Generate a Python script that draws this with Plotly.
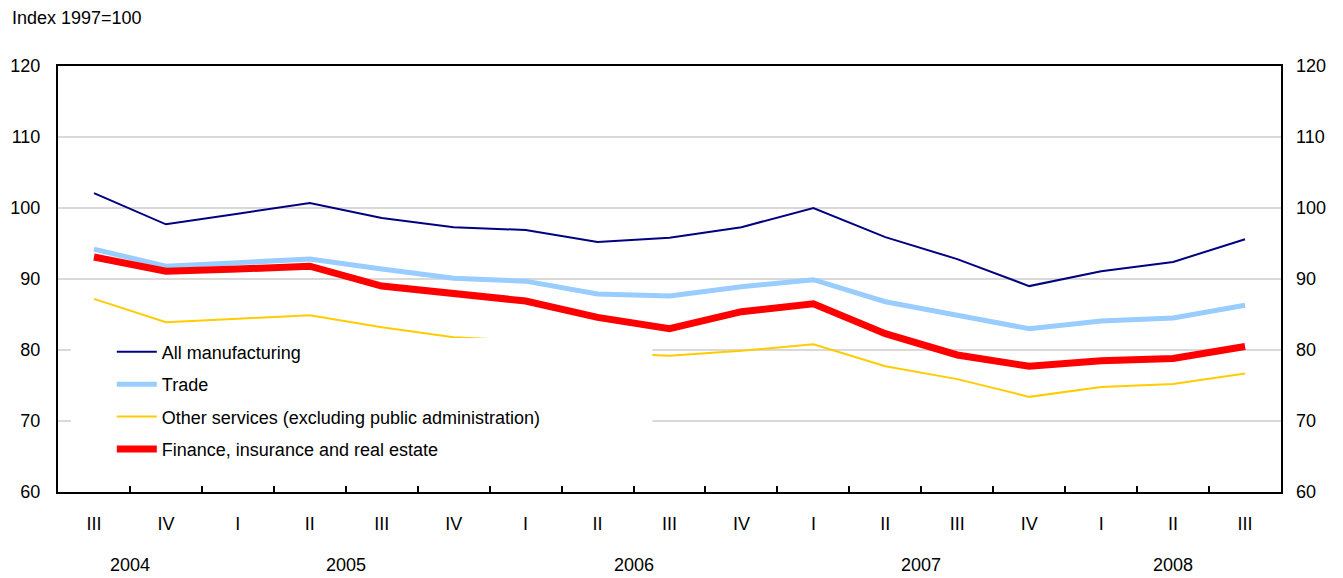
import plotly.graph_objects as go

quarters = ["III", "IV", "I", "II", "III", "IV", "I", "II", "III", "IV",
            "I", "II", "III", "IV", "I", "II", "III"]
years = ["2004", "2005", "2006", "2007", "2008"]
year_quarter_idx = [[0, 1], [2, 3, 4, 5], [6, 7, 8, 9], [10, 11, 12, 13], [14, 15, 16]]

all_manufacturing = [102.1, 97.7, 99.2, 100.7, 98.6, 97.3, 96.9, 95.2, 95.8, 97.3,
                     100.0, 95.9, 92.8, 89.0, 91.1, 92.4, 95.6]
trade = [94.2, 91.8, 92.3, 92.8, 91.4, 90.1, 89.7, 87.9, 87.6, 88.9,
         89.9, 86.8, 84.9, 83.0, 84.1, 84.5, 86.3]
other_services = [87.2, 83.9, 84.4, 84.9, 83.2, 81.8, 81.3, 79.6, 79.2, 79.9,
                  80.8, 77.7, 75.9, 73.4, 74.8, 75.2, 76.7]
finance = [93.1, 91.1, 91.4, 91.8, 89.0, 88.0, 86.9, 84.6, 83.0, 85.4,
           86.5, 82.3, 79.3, 77.7, 78.5, 78.8, 80.5]

series = [
    ("All manufacturing", all_manufacturing, "#000080", 2),
    ("Trade", trade, "#99CCFF", 5),
    ("Other services (excluding public administration)", other_services, "#FFCC00", 2),
    ("Finance, insurance and real estate", finance, "#FF0000", 7),
]

x = list(range(len(quarters)))
FONT = "Liberation Sans, Arial, Helvetica, sans-serif"

fig = go.Figure()
for i, (name, vals, color, w) in enumerate(series):
    fig.add_trace(go.Scatter(x=x, y=vals, mode="lines", name=name,
                             legendgroup=f"g{i}",
                             line=dict(color=color, width=w)))

# invisible trace for right axis
fig.add_trace(go.Scatter(x=x, y=all_manufacturing, yaxis="y2", xaxis="x2",
                         mode="lines", line=dict(width=0), showlegend=False,
                         hoverinfo="skip", opacity=0))

# year labels
for yr, idx in zip(years, year_quarter_idx):
    fig.add_annotation(x=sum(idx) / len(idx), y=-0.1714, xref="x", yref="paper",
                       text=yr, showarrow=False, yanchor="middle",
                       font=dict(size=18, color="black", family=FONT))

fig.add_annotation(x=-0.039, y=1.1127, xref="paper", yref="paper",
                   text="Index 1997=100", showarrow=False, xanchor="left",
                   yanchor="middle", font=dict(size=18, color="black", family=FONT))

# white box behind legend (covers part of the plot as in the original)
fig.add_shape(type="rect", xref="paper", yref="paper",
              x0=0.0106, x1=0.486, y0=0.065, y1=0.3615,
              fillcolor="white", line=dict(width=0), layer="above")

fig.update_layout(
    width=1335, height=570,
    margin=dict(l=50, r=62, t=58, b=86),
    paper_bgcolor="white", plot_bgcolor="white",
    font=dict(family=FONT, size=18, color="black"),
    showlegend=True,
    legend=dict(x=0.044, y=0.372, xanchor="left", yanchor="top",
                bgcolor="rgba(0,0,0,0)", traceorder="grouped",
                tracegroupgap=6, font=dict(size=18, family=FONT),
                itemwidth=40),
    xaxis=dict(range=[-0.5, 16.5], tickmode="array", tickvals=x,
               ticktext=quarters, ticks="", showgrid=False, zeroline=False,
               showline=True, linecolor="black", linewidth=2, mirror=True,
               ticklabelstandoff=14, fixedrange=True, automargin=False),
    xaxis2=dict(range=[-0.5, 16.5], overlaying="x", side="bottom",
                tickmode="array", tickvals=[k + 0.5 for k in range(16)],
                ticks="inside", ticklen=6, tickwidth=2, tickcolor="black",
                showticklabels=False, showgrid=False, zeroline=False,
                showline=False, anchor="y", automargin=False),
    yaxis=dict(range=[60, 120], tickmode="array",
               tickvals=[60, 70, 80, 90, 100, 110, 120],
               showgrid=True, gridcolor="#d9d9d9", gridwidth=2,
               zeroline=False, ticks="", showline=True, linecolor="black",
               linewidth=2, mirror=True, ticklabelstandoff=12, automargin=False),
    yaxis2=dict(range=[60, 120], overlaying="y", side="right", anchor="x",
                tickmode="array", tickvals=[60, 70, 80, 90, 100, 110, 120],
                showgrid=False, zeroline=False, ticks="", showline=False,
                ticklabelstandoff=14, automargin=False),
)

fig.write_html("out.html")
